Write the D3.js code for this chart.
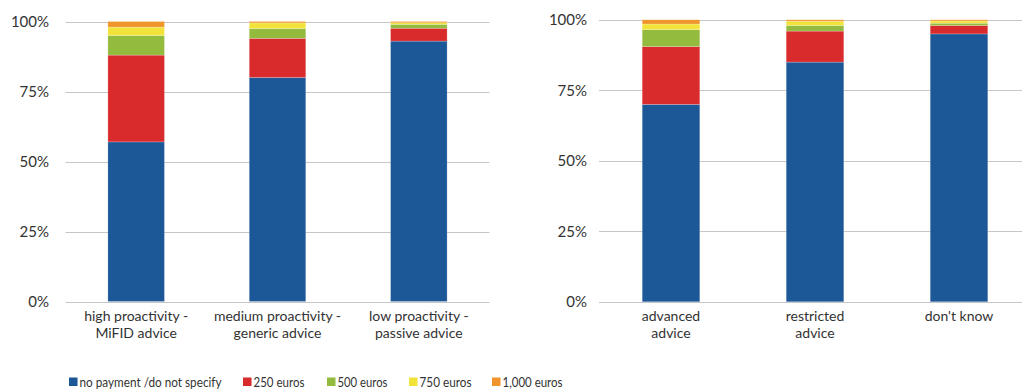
<!DOCTYPE html>
<html><head><meta charset="utf-8">
<script src="https://cdn.jsdelivr.net/npm/d3@7"></script>
<style>
body{margin:0;background:#fff;}
svg text{font-family:Lato,"Noto Sans",sans-serif;fill:#333;}
</style></head>
<body><svg id="chart" width="1022" height="389"></svg>
<script>
const seriesNames = ["no payment /do not specify","250 euros","500 euros","750 euros","1,000 euros"];
const seriesColors = ["#1c5798","#d92a2c","#93bb3d","#f2e33b","#ef952b"];
const yTicks = [0,25,50,75,100];

const leftCategories = [["high proactivity -","MiFID advice"],["medium proactivity -","generic advice"],["low proactivity -","passive advice"]];
const leftNoPayment = [57,80,93];
const left250 = [31,14,4.6];
const left500 = [7,3.5,1.4];
const left750 = [3,2,0.6];
const left1000 = [2,0.5,0.4];

const rightCategories = [["advanced","advice"],["restricted","advice"],["don't know"]];
const rightNoPayment = [70,85,95];
const right250 = [20.5,11,3];
const right500 = [6,2,0.8];
const right750 = [2,1.5,0.8];
const right1000 = [1.5,0.5,0.4];

const svg = d3.select("#chart");

function drawPanel(cfg){
  const g = svg.append("g");
  const x = d3.scaleBand().domain(d3.range(cfg.cats.length)).range(cfg.xr).padding(0);
  const y = d3.scaleLinear().domain([0,100]).range(cfg.yr);
  g.selectAll("line.grid").data(yTicks).join("line")
    .attr("x1",cfg.xr[0]).attr("x2",Math.min(cfg.xr[1],cfg.gridEnd))
    .attr("y1",d=>Math.round(y(d))+0.5).attr("y2",d=>Math.round(y(d))+0.5)
    .attr("stroke","#c6c6c6").attr("stroke-width",1);
  g.selectAll("text.yl").data(yTicks).join("text")
    .attr("x",cfg.labelX).attr("y",d=>y(d)).attr("dy","0.35em")
    .attr("text-anchor","end").style("font-size","15px").text(d=>d+"%");
  const rows = cfg.cats.map((c,i)=>({i, vals: cfg.series.map(s=>s[i])}));
  const stack = d3.stack().keys(d3.range(cfg.series.length)).value((d,k)=>d.vals[k]);
  const layers = stack(rows);
  const bw = x.bandwidth()*0.4;
  g.selectAll("g.layer").data(layers).join("g")
    .attr("fill",(d,k)=>seriesColors[k])
    .selectAll("rect").data(d=>d).join("rect")
    .attr("x",d=>x(d.data.i)+x.bandwidth()/2-bw/2)
    .attr("width",bw)
    .attr("y",d=>y(d[1]))
    .attr("height",d=>y(d[0])-y(d[1]))
    .attr("stroke","rgba(255,255,255,0.35)").attr("stroke-width",0.6);
  const cl = g.selectAll("text.cat").data(cfg.cats).join("text")
    .attr("text-anchor","middle").style("font-size","14px")
    .attr("transform",(d,i)=>`translate(${x(i)+x.bandwidth()/2},321)`);
  cl.selectAll("tspan").data(d=>d).join("tspan")
    .attr("x",0).attr("y",(d,j)=>j*17).text(d=>d);
}

drawPanel({cats:leftCategories, series:[leftNoPayment,left250,left500,left750,left1000],
  xr:[65.5,489.5], yr:[301.5,21.5], labelX:49, gridEnd:1022});
drawPanel({cats:rightCategories, series:[rightNoPayment,right250,right500,right750,right1000],
  xr:[599,1031], yr:[301.8,19.8], labelX:587, gridEnd:1022});

const legX = [69,243,327,409,492];
const legW = [142,51,50,52,60];
const lg = svg.append("g").selectAll("g").data(seriesNames).join("g")
  .attr("transform",(d,i)=>`translate(${legX[i]},377.5)`);
lg.append("rect").attr("width",8.5).attr("height",8.5).attr("fill",(d,i)=>seriesColors[i]);
lg.append("text").attr("x",10.5).attr("y",4.5).attr("dy","0.36em").style("font-size","14px")
  .attr("textLength",(d,i)=>legW[i]).attr("lengthAdjust","spacingAndGlyphs").text(d=>d);
</script></body></html>
